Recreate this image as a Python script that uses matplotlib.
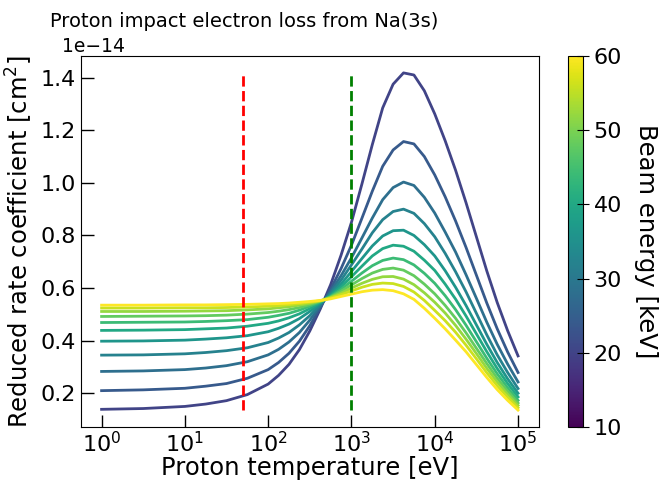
import numpy as np
import matplotlib
matplotlib.use("Agg")
import matplotlib.pyplot as plt
from matplotlib.colors import Normalize
from matplotlib.cm import ScalarMappable
from matplotlib.ticker import MultipleLocator

# log10 of proton temperature [eV]
log_temp = [0.0, 0.5, 1.0, 1.25, 1.5, 1.75,
            2.0, 2.125, 2.25, 2.375, 2.5, 2.625, 2.75, 2.875,
            3.0, 3.125, 3.25, 3.375, 3.5, 3.625, 3.75, 3.875,
            4.0, 4.125, 4.25, 4.375, 4.5, 4.625, 4.75, 4.875, 5.0]

beam_energy = [20, 24, 28, 32, 36, 40, 44, 48, 52, 56, 60]  # keV

# reduced rate coefficient, units of 1e-14 cm^2 (one row per beam energy)
rate_20 = [0.139, 0.142, 0.150, 0.159, 0.172, 0.195, 0.235, 0.268, 0.310, 0.366, 0.437,
           0.520, 0.613, 0.725, 0.850, 0.995, 1.145, 1.285, 1.375, 1.418, 1.410, 1.350,
           1.262, 1.160, 1.048, 0.925, 0.795, 0.665, 0.545, 0.438, 0.342]
rate_24 = [0.210, 0.213, 0.219, 0.227, 0.237, 0.257, 0.290, 0.317, 0.352, 0.398, 0.457,
           0.526, 0.596, 0.674, 0.763, 0.865, 0.968, 1.063, 1.125, 1.157, 1.148, 1.100,
           1.030, 0.947, 0.855, 0.755, 0.649, 0.543, 0.445, 0.357, 0.279]
rate_28 = [0.283, 0.285, 0.290, 0.296, 0.305, 0.320, 0.346, 0.367, 0.395, 0.431, 0.478,
           0.532, 0.587, 0.647, 0.715, 0.790, 0.866, 0.936, 0.982, 1.003, 0.990, 0.945,
           0.885, 0.813, 0.737, 0.651, 0.561, 0.470, 0.386, 0.311, 0.243]
rate_32 = [0.345, 0.346, 0.350, 0.355, 0.362, 0.373, 0.393, 0.410, 0.431, 0.460, 0.495,
           0.537, 0.580, 0.630, 0.688, 0.748, 0.810, 0.860, 0.891, 0.900, 0.884, 0.845,
           0.795, 0.732, 0.662, 0.586, 0.504, 0.422, 0.346, 0.279, 0.218]
rate_36 = [0.398, 0.399, 0.402, 0.406, 0.411, 0.419, 0.434, 0.447, 0.463, 0.484, 0.511,
           0.542, 0.575, 0.615, 0.663, 0.712, 0.760, 0.798, 0.818, 0.820, 0.800, 0.765,
           0.722, 0.666, 0.603, 0.534, 0.460, 0.386, 0.317, 0.255, 0.200]
rate_40 = [0.439, 0.440, 0.442, 0.445, 0.448, 0.455, 0.466, 0.475, 0.487, 0.502, 0.522,
           0.545, 0.571, 0.604, 0.643, 0.683, 0.722, 0.750, 0.763, 0.759, 0.740, 0.706,
           0.667, 0.615, 0.558, 0.494, 0.426, 0.358, 0.294, 0.237, 0.186]
rate_44 = [0.469, 0.470, 0.471, 0.473, 0.476, 0.480, 0.489, 0.496, 0.504, 0.516, 0.531,
           0.548, 0.568, 0.595, 0.626, 0.657, 0.685, 0.705, 0.714, 0.708, 0.688, 0.656,
           0.618, 0.571, 0.518, 0.459, 0.396, 0.333, 0.274, 0.221, 0.173]
rate_48 = [0.492, 0.493, 0.494, 0.495, 0.497, 0.501, 0.507, 0.512, 0.518, 0.526, 0.537,
           0.550, 0.566, 0.588, 0.612, 0.636, 0.657, 0.671, 0.676, 0.668, 0.647, 0.615,
           0.578, 0.534, 0.485, 0.430, 0.371, 0.313, 0.257, 0.208, 0.163]
rate_52 = [0.511, 0.511, 0.512, 0.513, 0.514, 0.517, 0.521, 0.525, 0.529, 0.535, 0.542,
           0.551, 0.564, 0.581, 0.600, 0.618, 0.633, 0.643, 0.644, 0.634, 0.613, 0.582,
           0.546, 0.505, 0.458, 0.406, 0.351, 0.295, 0.243, 0.196, 0.154]
rate_56 = [0.524, 0.524, 0.525, 0.525, 0.526, 0.528, 0.531, 0.533, 0.537, 0.541, 0.546,
           0.552, 0.562, 0.575, 0.589, 0.603, 0.614, 0.619, 0.617, 0.606, 0.585, 0.553,
           0.515, 0.476, 0.432, 0.383, 0.331, 0.278, 0.229, 0.185, 0.145]
rate_60 = [0.535, 0.535, 0.536, 0.536, 0.537, 0.538, 0.540, 0.541, 0.543, 0.546, 0.549,
           0.553, 0.559, 0.568, 0.577, 0.586, 0.592, 0.594, 0.590, 0.578, 0.557, 0.523,
           0.485, 0.445, 0.402, 0.358, 0.309, 0.260, 0.214, 0.173, 0.136]

rates = [rate_20, rate_24, rate_28, rate_32, rate_36, rate_40,
         rate_44, rate_48, rate_52, rate_56, rate_60]

marker_temps = [50, 1000]
marker_colors = ["red", "green"]

plt.rcParams["font.size"] = 16

fig = plt.figure(figsize=(6.62, 4.83), dpi=100)
ax = fig.add_axes([0.122, 0.116, 0.692, 0.768])
cax = fig.add_axes([0.858, 0.116, 0.023, 0.768])

temp = 10.0 ** np.array(log_temp)
data = np.array(rates) * 1e-14
norm = Normalize(vmin=10, vmax=60)
cmap = plt.get_cmap("viridis")

for energy, row in zip(beam_energy, data):
    ax.plot(temp, row, color=cmap(norm(energy)), lw=2)

for t, c in zip(marker_temps, marker_colors):
    ax.vlines(t, data.min(), data.max(), colors=c, linestyles="--", lw=2)

ax.set_xscale("log")
ax.yaxis.set_major_locator(MultipleLocator(0.2e-14))
ax.set_xlabel("Proton temperature [eV]", fontsize=17.5, labelpad=0)
ax.set_ylabel("Reduced rate coefficient [cm$^2$]", fontsize=17.5)
ax.set_title("Proton impact electron loss from Na(3s)", fontsize=14,
             x=0.357, pad=21)
ax.tick_params(which="major", direction="in", length=9, width=1)
ax.tick_params(axis="x", which="major", pad=3)
ax.tick_params(which="minor", length=0)
ax.yaxis.get_offset_text().set_fontsize(13.5)
ax.yaxis.get_offset_text().set_x(-0.04)

sm = ScalarMappable(norm=norm, cmap=cmap)
cb = fig.colorbar(sm, cax=cax)
cb.set_ticks([10, 20, 30, 40, 50, 60])
cb.ax.tick_params(direction="inout", length=8)
cb.set_label("Beam energy [keV]", rotation=270, labelpad=26, fontsize=17.5)

fig.savefig("out.png", dpi=100)
